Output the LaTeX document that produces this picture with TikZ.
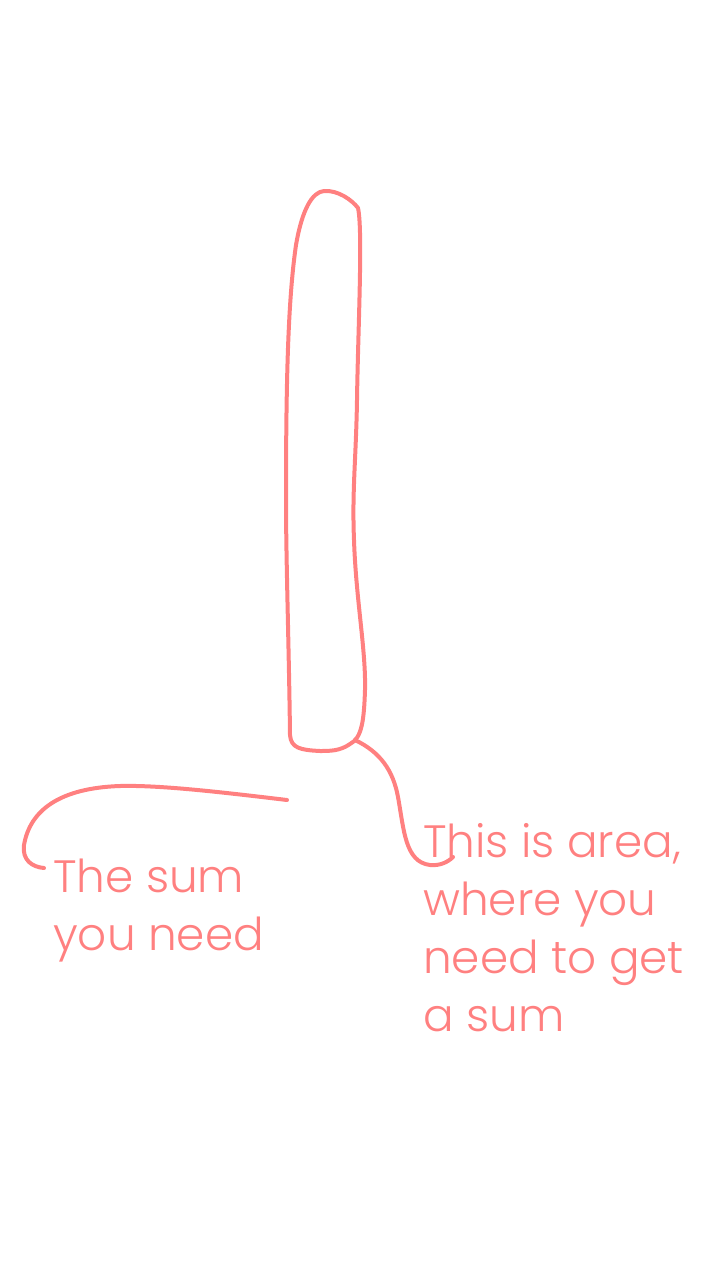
\documentclass[tikz,border=0pt]{standalone}
\usepackage{fontspec}
\setmainfont{Poppins}[UprightFont=* Light]
\definecolor{salmon}{RGB}{255,128,128}
\tikzset{pen/.style={draw=salmon, line width=3pt, line cap=round, line join=round},
  note/.style={anchor=base west, inner sep=0pt, align=left, text=salmon,
    font=\fontsize{34}{43.5}\selectfont}}

\begin{document}
\begin{tikzpicture}[x=0.75pt,y=0.75pt,yscale=-1,xscale=1]
%set diagram left start at 0, and has height of 1280
\path[use as bounding box] (0,0) rectangle (720,1280);

%Shape: Polygon Curved [id:area]
\draw [pen] (324,191) .. controls (338,190) and (352,200) .. (358,208) .. controls (363,230) and (358,330) .. (357,400) .. controls (356,460) and (352,490) .. (354,540) .. controls (356,600) and (366,650) .. (365,690) .. controls (364,720) and (362,738) .. (350,744) .. controls (340,751) and (330,751) .. (320,751) .. controls (300,750) and (291,748) .. (290,735) .. controls (289,650) and (286,560) .. (286,500) .. controls (286,380) and (288,300) .. (296,245) .. controls (302,210) and (312,192) .. (324,191) -- cycle ;
\coordinate (areaTip) at (355,740);
\coordinate (sumTip) at (287,800);
\coordinate (areaHook) at (453,857);
\coordinate (sumHook) at (44,868);

% Text Node (base of last line)
\node [note] (sumText) at (53,950) {The sum\\you need};
% Text Node (base of last line)
\node [note] (areaText) at (423,1031) {This is area,\\where you\\need to get\\a sum};

%Curve Lines [id:areaLine]
\draw [pen] (areaTip) .. controls (380,752) and (393,770) .. (398,797) .. controls (404,830) and (405,862) .. (430,865) .. controls (440,866) and (448,862) .. (areaHook) ;
%Curve Lines [id:sumLine]
\draw [pen] (sumTip) .. controls (220,792) and (160,785) .. (120,786) .. controls (60,788) and (30,810) .. (24,845) .. controls (22,860) and (32,867) .. (sumHook) ;

\end{tikzpicture}
\end{document}
